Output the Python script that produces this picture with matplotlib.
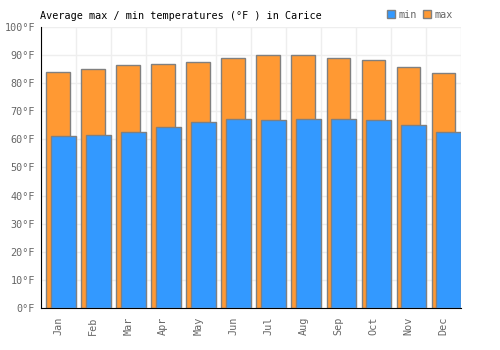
import numpy as np
import matplotlib
matplotlib.use('Agg')
import matplotlib.pyplot as plt
from matplotlib.patches import Patch

months = ['Jan', 'Feb', 'Mar', 'Apr', 'May', 'Jun', 'Jul', 'Aug', 'Sep', 'Oct', 'Nov', 'Dec']
max_temp = [84.0, 85.0, 86.4, 86.9, 87.5, 88.9, 90.0, 90.0, 88.9, 88.2, 85.7, 83.6]
min_temp = [61.2, 61.6, 62.6, 64.4, 66.2, 67.3, 66.9, 67.3, 67.3, 66.9, 65.0, 62.5]
y_ticks = [0, 10, 20, 30, 40, 50, 60, 70, 80, 90, 100]

blue = '#3399ff'
orange = '#ff9933'
edge = '#808080'
grey = '#666666'

plt.rcParams['font.family'] = 'DejaVu Sans Mono'

fig = plt.figure(figsize=(5, 3.5), dpi=100)
ax = fig.add_axes([0.0814, 0.12, 0.8406, 0.803])

x = np.arange(len(months))
ax.bar(x + 0.495, max_temp, width=0.67, color=orange, edgecolor=edge, linewidth=1, zorder=2)
ax.bar(x + 0.65, min_temp, width=0.70, color=blue, edgecolor=edge, linewidth=1, zorder=3)

ax.set_xlim(0, 12)
ax.set_ylim(0, 100)
ax.set_yticks(y_ticks)
ax.set_yticklabels([f'{v}°F' for v in y_ticks], color=grey, fontsize=7.3)
ax.set_xticks(x + 0.5)
ax.set_xticklabels(months, rotation=90, color=grey, fontsize=7.3)
ax.set_xticks(np.arange(0, 13), minor=True)
ax.tick_params(axis='x', which='both', length=0, pad=6)
ax.tick_params(axis='y', length=0, pad=4)

ax.grid(True, axis='y', color='#eeeeee', linewidth=1, zorder=0)
ax.grid(True, axis='x', which='minor', color='#eeeeee', linewidth=1, zorder=0)
ax.set_axisbelow(True)

for s in ['top', 'right']:
    ax.spines[s].set_visible(False)
ax.spines['left'].set_color('black')
ax.spines['bottom'].set_color('black')

fig.text(0.08, 0.955, 'Average max / min temperatures (°F ) in Carice', fontsize=7.3,
         color='black', ha='left', va='center')

handles = [Patch(facecolor=blue, edgecolor=edge, label='min'),
           Patch(facecolor=orange, edgecolor=edge, label='max')]
leg = fig.legend(handles=handles, loc='center right', bbox_to_anchor=(0.915, 0.958), ncol=2,
                 frameon=False, fontsize=7.3, handlelength=0.8, handleheight=0.8,
                 handletextpad=0.3, columnspacing=0.6, borderpad=0)
for t in leg.get_texts():
    t.set_color(grey)

fig.savefig('out.png', dpi=100)
